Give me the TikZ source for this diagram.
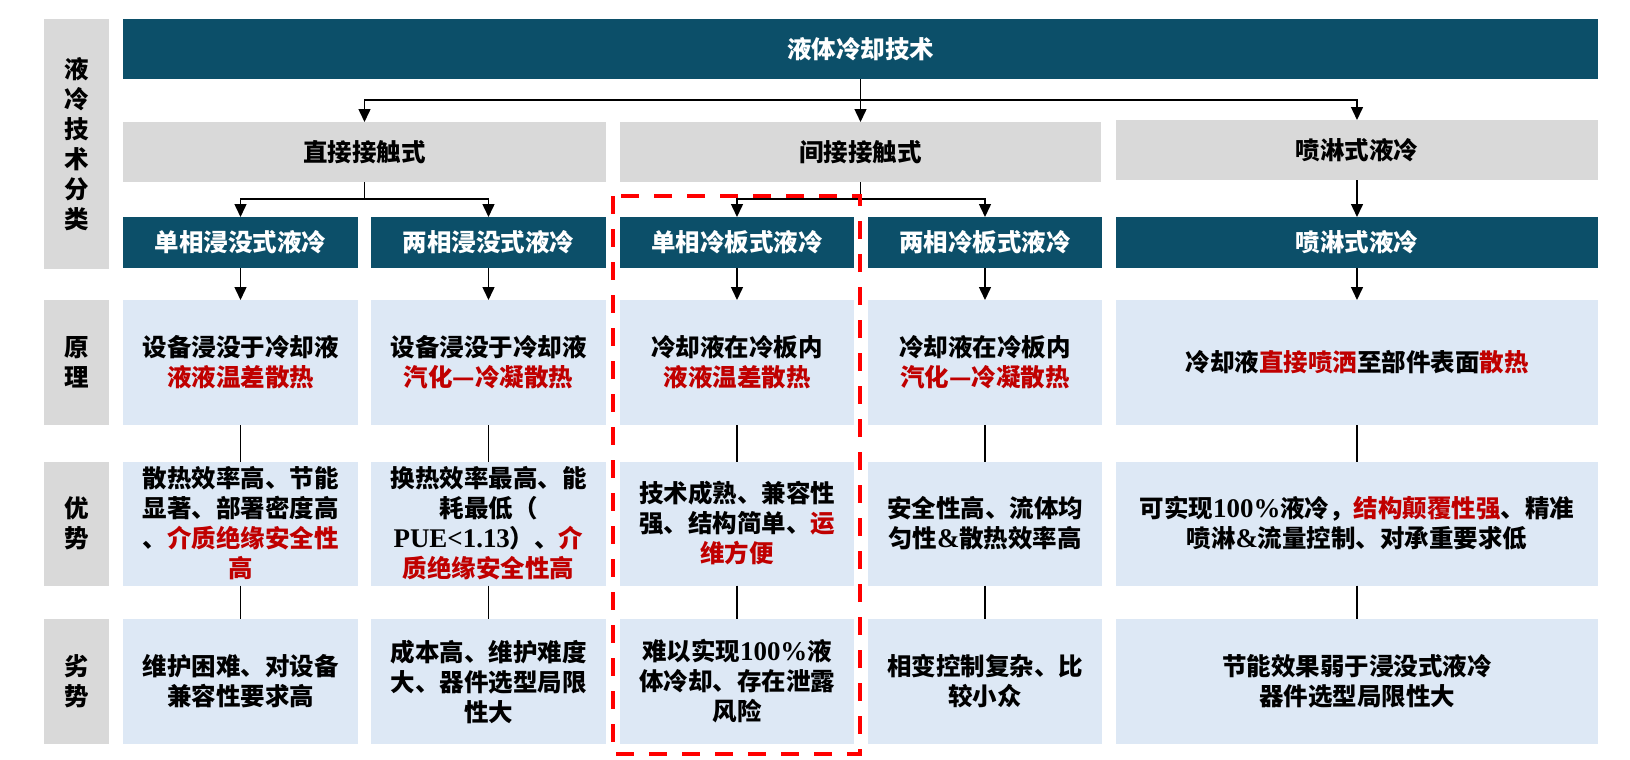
\documentclass[tikz,border=0pt]{standalone}
\usepackage{fontspec}
\usepackage{xcolor}
\usetikzlibrary{arrows.meta}
\setmainfont{Noto Sans CJK SC}
\newfontfamily\latf{Liberation Serif Bold}[Scale=1.1]
\definecolor{techdark}{HTML}{0C4F69}
\definecolor{techgrey}{HTML}{D9D9D9}
\definecolor{techlight}{HTML}{DDE8F5}
\definecolor{techred}{HTML}{C00000}
\definecolor{markred}{HTML}{FF0000}
\newcommand{\redpart}[1]{\textcolor{techred}{#1}}

\begin{document}
\begin{tikzpicture}[x=1pt, y=-1pt,
  cell/.style={inner sep=0pt, outer sep=0pt, align=center, font=\bfseries\fontsize{24.5}{30}\selectfont},
  darkcell/.style={cell, fill=techdark, text=white},
  greycell/.style={cell, fill=techgrey},
  lightcell/.style={cell, fill=techlight},
  conn/.style={line width=1.5pt},
  arr/.style={conn, -{Triangle[width=12pt,length=13pt]}},
  markbox/.style={draw=markred, line width=4pt, dash pattern=on 18pt off 15pt}]
\useasboundingbox (0,0) rectangle (1630,760);

% row labels
\node[greycell, minimum width=65pt, minimum height=250pt] (labkind) at (76.5,144) {液\\冷\\技\\术\\分\\类};
\node[greycell, minimum width=65pt, minimum height=125pt] (labprin) at (76.5,362) {原\\理};
\node[greycell, minimum width=65pt, minimum height=124pt] (labpro) at (76.5,523.5) {优\\势};
\node[greycell, minimum width=65pt, minimum height=125pt] (labcon) at (76.5,681.5) {劣\\势};

% tree
\node[darkcell, minimum width=1475pt, minimum height=60pt] (tech) at (860.5,49) {液体冷却技术};
\node[greycell, minimum width=483pt, minimum height=60pt] (direct) at (364.5,152) {直接接触式};
\node[greycell, minimum width=481pt, minimum height=60pt] (indirect) at (860.5,152) {间接接触式};
\node[greycell, minimum width=482pt, minimum height=60pt] (spray) at (1357,150) {喷淋式液冷};

\node[darkcell, minimum width=235pt, minimum height=51pt] (immone) at (240.5,242.5) {单相浸没式液冷};
\node[darkcell, minimum width=235pt, minimum height=51pt] (immtwo) at (488.5,242.5) {两相浸没式液冷};
\node[darkcell, minimum width=234pt, minimum height=51pt] (plateone) at (737,242.5) {单相冷板式液冷};
\node[darkcell, minimum width=234pt, minimum height=51pt] (platetwo) at (985,242.5) {两相冷板式液冷};
\node[darkcell, minimum width=482pt, minimum height=51pt] (spraysub) at (1357,242.5) {喷淋式液冷};

% principle
\node[lightcell, minimum width=235pt, minimum height=125pt] (prinA) at (240.5,362.5) {设备浸没于冷却液\\\redpart{液液温差散热}};
\node[lightcell, minimum width=235pt, minimum height=125pt] (prinB) at (488.5,362.5) {设备浸没于冷却液\\\redpart{汽化—冷凝散热}};
\node[lightcell, minimum width=234pt, minimum height=125pt] (prinC) at (737,362.5) {冷却液在冷板内\\\redpart{液液温差散热}};
\node[lightcell, minimum width=234pt, minimum height=125pt] (prinD) at (985,362.5) {冷却液在冷板内\\\redpart{汽化—冷凝散热}};
\node[lightcell, minimum width=482pt, minimum height=125pt] (prinE) at (1357,362.5) {冷却液\redpart{直接喷洒}至部件表面\redpart{散热}};

% advantages
\node[lightcell, minimum width=235pt, minimum height=124pt] (proA) at (240.5,523.5) {散热效率高、节能\\显著、部署密度高\\、\redpart{介质绝缘安全性}\\\redpart{高}};
\node[lightcell, minimum width=235pt, minimum height=124pt] (proB) at (488.5,523.5) {换热效率最高、能\\耗最低（\\{\latf PUE<1.13}）、\redpart{介}\\\redpart{质绝缘安全性高}};
\node[lightcell, minimum width=234pt, minimum height=124pt] (proC) at (737,523.5) {技术成熟、兼容性\\强、结构简单、\redpart{运}\\\redpart{维方便}};
\node[lightcell, minimum width=234pt, minimum height=124pt] (proD) at (985,523.5) {安全性高、流体均\\匀性{\latf\&}散热效率高};
\node[lightcell, minimum width=482pt, minimum height=124pt] (proE) at (1357,523.5) {可实现{\latf 100\%}液冷，\redpart{结构颠覆性强}、精准\\喷淋{\latf\&}流量控制、对承重要求低};

% drawbacks
\node[lightcell, minimum width=235pt, minimum height=125pt] (conA) at (240.5,681.5) {维护困难、对设备\\兼容性要求高};
\node[lightcell, minimum width=235pt, minimum height=125pt] (conB) at (488.5,681.5) {成本高、维护难度\\大、器件选型局限\\性大};
\node[lightcell, minimum width=234pt, minimum height=125pt] (conC) at (737,681.5) {难以实现{\latf 100\%}液\\体冷却、存在泄露\\风险};
\node[lightcell, minimum width=234pt, minimum height=125pt] (conD) at (985,681.5) {相变控制复杂、比\\较小众};
\node[lightcell, minimum width=482pt, minimum height=125pt] (conE) at (1357,681.5) {节能效果弱于浸没式液冷\\器件选型局限性大};

% connectors
\coordinate (techjoin) at (860.5,100);
\coordinate (directjoin) at (364.5,199);
\coordinate (indirectjoin) at (860.5,199);
\draw[conn] (tech.south) -- (techjoin);
\draw[arr] (techjoin) -| (direct.north);
\draw[arr] (techjoin) -- (indirect.north);
\draw[arr] (techjoin) -| (spray.north);
\draw[conn] (direct.south) -- (directjoin);
\draw[arr] (directjoin) -| (immone.north);
\draw[arr] (directjoin) -| (immtwo.north);
\draw[conn] (indirect.south) -- (indirectjoin);
\draw[arr] (indirectjoin) -| (plateone.north);
\draw[arr] (indirectjoin) -| (platetwo.north);
\draw[arr] (spray.south) -- (spraysub.north);

\draw[arr] (immone.south) -- (prinA.north);
\draw[arr] (immtwo.south) -- (prinB.north);
\draw[arr] (plateone.south) -- (prinC.north);
\draw[arr] (platetwo.south) -- (prinD.north);
\draw[arr] (spraysub.south) -- (prinE.north);

\draw[conn] (prinA.south) -- (proA.north);
\draw[conn] (prinB.south) -- (proB.north);
\draw[conn] (prinC.south) -- (proC.north);
\draw[conn] (prinD.south) -- (proD.north);
\draw[conn] (prinE.south) -- (proE.north);
\draw[conn] (proA.south) -- (conA.north);
\draw[conn] (proB.south) -- (conB.north);
\draw[conn] (proC.south) -- (conC.north);
\draw[conn] (proD.south) -- (conD.north);
\draw[conn] (proE.south) -- (conE.north);

% highlight of the single-phase cold plate column
\draw[markbox] (613,196) rectangle (860,754);
\end{tikzpicture}
\end{document}
